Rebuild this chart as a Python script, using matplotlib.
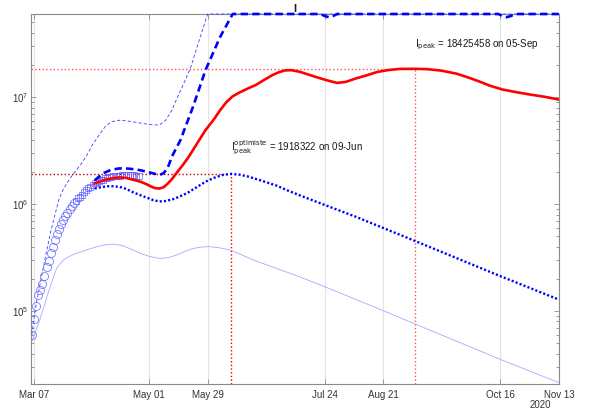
import matplotlib
matplotlib.use("Agg")
import matplotlib.pyplot as plt
import matplotlib.dates as mdates
from matplotlib.ticker import LogLocator
import numpy as np

plt.rcParams["font.family"] = ["Liberation Sans", "DejaVu Sans"]
plt.rcParams["mathtext.default"] = "regular"

START = np.datetime64("2020-03-07")

# observed points (days since Mar 07)
OBS_CIRCLE_DAYS = list(range(-1, 20))
OBS_CIRCLE_VALUES = [6.0e4, 8.5e4, 1.12e5, 1.41e5, 1.58e5, 1.78e5, 2.14e5, 2.57e5, 2.95e5,
                     3.47e5, 3.98e5, 4.62e5, 5.25e5, 5.89e5, 6.46e5, 7.08e5, 7.76e5,
                     8.32e5, 9.02e5, 9.66e5, 1.02e6]
OBS_SQUARE_DAYS = list(range(20, 51))
OBS_SQUARE_VALUES = [1.08e6, 1.14e6, 1.17e6, 1.23e6, 1.29e6, 1.35e6, 1.41e6, 1.46e6, 1.51e6,
                     1.57e6, 1.60e6, 1.64e6, 1.67e6, 1.70e6, 1.74e6, 1.77e6, 1.79e6,
                     1.81e6, 1.83e6, 1.84e6, 1.85e6, 1.85e6, 1.86e6, 1.86e6, 1.87e6,
                     1.87e6, 1.86e6, 1.86e6, 1.86e6, 1.85e6, 1.85e6]

RED_DAYS = [29, 32, 35, 38, 41, 44, 47, 51, 54, 56, 58, 60, 62, 64, 66, 68, 71, 74, 78, 82,
            86, 89, 92, 95, 98, 102, 106, 110, 114, 117, 120, 123, 127, 132, 136, 140, 145,
            149, 154, 159, 164, 169, 175, 182, 188, 195, 202, 208, 213, 218, 224, 230, 237,
            244, 251]
RED_VALUES = [1.56e6, 1.64e6, 1.71e6, 1.75e6, 1.78e6, 1.76e6, 1.70e6, 1.62e6, 1.53e6, 1.46e6,
              1.41e6, 1.40e6, 1.44e6, 1.56e6, 1.72e6, 1.94e6, 2.3e6, 2.77e6, 3.7e6, 4.92e6,
              6.2e6, 7.57e6, 9.0e6, 1.02e7, 1.1e7, 1.2e7, 1.3e7, 1.45e7, 1.61e7, 1.71e7,
              1.78e7, 1.79e7, 1.73e7, 1.61e7, 1.52e7, 1.44e7, 1.36e7, 1.39e7, 1.50e7, 1.6e7,
              1.72e7, 1.79e7, 1.84e7, 18425458, 1.83e7, 1.77e7, 1.66e7, 1.52e7, 1.40e7,
              1.28e7, 1.18e7, 1.12e7, 1.06e7, 1.01e7, 9.5e6]

OPT_DAYS = [29, 32, 35, 38, 41, 44, 47, 51, 54, 57, 60, 63, 67, 73, 78, 82, 86, 90, 94, 98,
            102, 107, 112, 116, 121, 127, 133, 154, 182, 223, 251]
OPT_VALUES = [1.40e6, 1.44e6, 1.47e6, 1.47e6, 1.45e6, 1.39e6, 1.30e6, 1.21e6, 1.15e6, 1.09e6,
              1.06e6, 1.07e6, 1.12e6, 1.26e6, 1.45e6, 1.62e6, 1.76e6, 1.87e6, 1918322,
              1.89e6, 1.82e6, 1.70e6, 1.58e6, 1.49e6, 1.35e6, 1.21e6, 1.09e6, 7.6e5, 4.54e5,
              2.12e5, 1.28e5]

PESS_DAYS = [29, 33, 37, 41, 45, 49, 53, 57, 60, 62, 64, 66, 70, 76, 82, 89, 95, 137, 139,
             141, 143, 145, 222, 224, 226, 228, 230, 251]
PESS_VALUES = [1.67e6, 1.94e6, 2.1e6, 2.16e6, 2.15e6, 2.11e6, 2.03e6, 1.94e6, 1.87e6, 1.95e6,
               2.2e6, 2.8e6, 3.96e6, 8.1e6, 1.79e7, 3.66e7, 6.0e7, 6.0e7, 5.75e7, 5.6e7,
               5.75e7, 6.0e7, 6.0e7, 5.75e7, 5.6e7, 5.75e7, 6.0e7, 6.0e7]

UPPER_DAYS = [-1, 0, 1, 2, 4, 6, 8, 10, 12, 14, 16, 19, 22, 25, 28, 31, 34, 37, 41, 46, 52,
              57, 60, 63, 66, 68, 72, 75, 79, 83, 251]
UPPER_VALUES = [6.0e4, 8.5e4, 1.15e5, 1.45e5, 2.3e5, 3.6e5, 5.5e5, 7.9e5, 1.12e6, 1.37e6,
                1.6e6, 1.94e6, 2.3e6, 2.8e6, 3.6e6, 4.4e6, 5.3e6, 5.9e6, 6.1e6, 5.95e6,
                5.68e6, 5.5e6, 5.5e6, 6.1e6, 7.6e6, 9.4e6, 1.4e7, 1.92e7, 3.41e7, 6.0e7,
                6.0e7]

LOWER_DAYS = [-1, 1, 3, 5, 7, 9, 11, 14, 17, 20, 25, 30, 35, 39, 43, 47, 51, 55, 60, 64, 68,
              72, 76, 80, 84, 89, 94, 105, 127, 139, 168, 182, 223, 251]
LOWER_VALUES = [5.2e4, 6.6e4, 8.5e4, 1.14e5, 1.52e5, 2.0e5, 2.55e5, 3.0e5, 3.25e5, 3.45e5,
                3.72e5, 4.0e5, 4.2e5, 4.22e5, 4.05e5, 3.75e5, 3.46e5, 3.25e5, 3.11e5, 3.15e5,
                3.33e5, 3.6e5, 3.85e5, 3.97e5, 4.0e5, 3.9e5, 3.72e5, 3.0e5, 2.09e5, 1.69e5,
                9.9e4, 7.6e4, 3.53e4, 2.14e4]

PEAK_DATE = np.datetime64("2020-09-05")
PEAK_VALUE = 18425458
OPT_PEAK_DATE = np.datetime64("2020-06-09")
OPT_PEAK_VALUE = 1918322

TICK_DATES = ["2020-03-07", "2020-05-01", "2020-05-29", "2020-07-24",
              "2020-08-21", "2020-10-16", "2020-11-13"]


def to_dates(days):
    return START + np.array(days).astype("timedelta64[D]")


fig = plt.figure(figsize=(5.9, 4.13), dpi=100)
ax = fig.add_axes([31 / 590, 1 - 384 / 413, 528 / 590, 370 / 413])

x_left = START - np.timedelta64(34, "h")
x_right = np.datetime64("2020-11-13")
y_top = 6.0e7
y_bottom = 2.08e4

# reference lines for the peaks
ax.plot([x_left, PEAK_DATE], [PEAK_VALUE, PEAK_VALUE], ":", color="#ff5050", lw=1.0, zorder=2)
ax.plot([PEAK_DATE, PEAK_DATE], [y_bottom, PEAK_VALUE], ":", color="#ff5050", lw=1.0, zorder=2)
ax.plot([x_left, OPT_PEAK_DATE], [OPT_PEAK_VALUE, OPT_PEAK_VALUE], ":", color="#c00000", lw=1.0, zorder=2)
ax.plot([OPT_PEAK_DATE, OPT_PEAK_DATE], [y_bottom, OPT_PEAK_VALUE], ":", color="#e00000", lw=1.0, zorder=2)

ax.plot(to_dates(LOWER_DAYS), LOWER_VALUES, "-", color="#a8a8ff", lw=0.6, zorder=3)
ax.plot(to_dates(UPPER_DAYS), UPPER_VALUES, color="#4040ff", lw=0.6,
        linestyle=(0, (4, 2.5)), zorder=3, clip_on=False)
ax.plot(to_dates(OBS_CIRCLE_DAYS), OBS_CIRCLE_VALUES, "o", ms=5.8, mfc="none",
        mec="#5a5aff", mew=0.6, alpha=0.8, zorder=4)
ax.plot(to_dates(OBS_SQUARE_DAYS), OBS_SQUARE_VALUES, "s", ms=4, mfc="none",
        mec="#5a5aff", mew=0.6, alpha=0.8, zorder=4)
ax.plot(to_dates(PESS_DAYS), PESS_VALUES, color="#0000ff", lw=1.9,
        linestyle=(0, (2.8, 1.6)), zorder=5, clip_on=False)
ax.plot(to_dates(OPT_DAYS), OPT_VALUES, color="#0000ff", lw=1.7,
        linestyle=(0, (0.9, 0.9)), zorder=5)
ax.plot(to_dates(RED_DAYS), RED_VALUES, "-", color="#ff0000", lw=1.9, zorder=6)

ax.text(OPT_PEAK_DATE, OPT_PEAK_VALUE * 1.74,
        r"$\mathrm{I}^{\mathrm{optimiste}}_{\mathrm{peak}}$" + f" = {OPT_PEAK_VALUE} on 09-Jun",
        fontsize=7, ha="left", va="center", color="#1a1a1a")
ax.text(PEAK_DATE, PEAK_VALUE * 1.66,
        r"$\mathrm{I}_{\mathrm{peak}}$" + f" = {PEAK_VALUE} on 05-Sep",
        fontsize=7, ha="left", va="center", color="#1a1a1a")

ax.set_yscale("log")
ax.set_ylim(y_bottom, y_top)
ax.set_xlim(x_left, x_right)
ax.set_xticks([np.datetime64(d) for d in TICK_DATES])
ax.xaxis.set_major_formatter(mdates.DateFormatter("%b %d"))
ax.yaxis.set_major_locator(LogLocator(base=10))
ax.yaxis.set_minor_locator(LogLocator(base=10, subs=np.arange(2, 10)))
ax.yaxis.set_minor_formatter(plt.NullFormatter())

ax.grid(axis="x", color="#e4e4e4", lw=0.8)
ax.set_axisbelow(True)
for s in ax.spines.values():
    s.set_color("#8a8a8a")
    s.set_linewidth(0.8)
ax.tick_params(which="both", direction="in", top=True, right=True, colors="#8a8a8a",
               labelcolor="#333333", labelsize=7)
ax.tick_params(which="major", length=3.5, width=0.6)
ax.tick_params(which="minor", length=2, width=0.6)
ax.tick_params(axis="x", pad=4)
ax.tick_params(axis="y", pad=2)

ax.set_title("I", fontsize=8, fontweight="bold", pad=1.5, color="#1a1a1a")
fig.text(551 / 590, 1 - 405 / 413, "2020", ha="right", va="center", fontsize=7, color="#333333")

fig.savefig("out.png", dpi=100)
